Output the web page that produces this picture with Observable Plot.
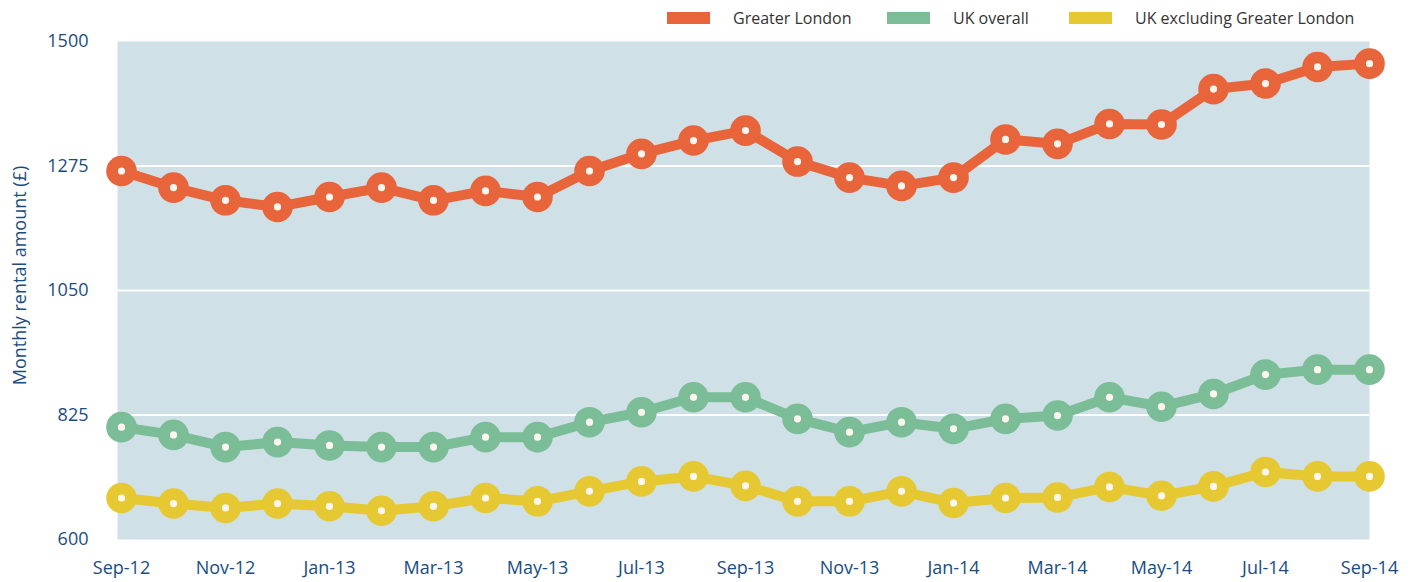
<!DOCTYPE html>
<html>
<head>
<meta charset="utf-8">
<script src="https://cdn.jsdelivr.net/npm/d3@7"></script>
<script src="https://cdn.jsdelivr.net/npm/@observablehq/plot@0.6"></script>
<style>
  html, body { margin: 0; padding: 0; background: #fff; }
  body { width: 1416px; height: 582px; overflow: hidden; font-family: "Open Sans", "Noto Sans", sans-serif; }
  #legend { position: relative; height: 28px; width: 1416px; }
  #legend .sw { position: absolute; top: 12px; width: 43px; height: 12px; }
  #legend .lb { position: absolute; top: 7px; font-size: 16px; line-height: 22px; color: #333; white-space: nowrap; }
</style>
</head>
<body>
<div id="legend"></div>
<div id="chart"></div>
<script>
const months = ["Sep-12","Oct-12","Nov-12","Dec-12","Jan-13","Feb-13","Mar-13","Apr-13","May-13","Jun-13","Jul-13","Aug-13","Sep-13","Oct-13","Nov-13","Dec-13","Jan-14","Feb-14","Mar-14","Apr-14","May-14","Jun-14","Jul-14","Aug-14","Sep-14"];
const tickLabels = ["Sep-12","Nov-12","Jan-13","Mar-13","May-13","Jul-13","Sep-13","Nov-13","Jan-14","Mar-14","May-14","Jul-14","Sep-14"];
const yTicks = [600, 825, 1050, 1275, 1500];
const seriesNames = ["Greater London", "UK overall", "UK excluding Greater London"];
const seriesColors = ["#E8643A", "#7BBD97", "#E6C832"];
const london = [1266,1236,1213,1201,1219,1236,1213,1230,1219,1266,1297,1321,1339,1283,1254,1239,1254,1323,1315,1351,1350,1414,1424,1454,1460];
const ukOverall = [803,789,767,776,770,767,767,785,785,812,830,857,857,818,794,812,800,818,824,857,840,863,898,907,907];
const ukExLondon = [675,665,657,665,660,652,660,675,669,687,705,714,697,669,669,687,666,675,676,695,679,696,722,714,714];

const seriesValues = [london, ukOverall, ukExLondon];
const data = [];
seriesNames.forEach((s, i) => {
  seriesValues[i].forEach((v, j) => data.push({series: s, month: months[j], value: v}));
});

// legend
const legend = document.getElementById("legend");
const legendPos = [[667, 733], [887, 953], [1069, 1135]];
seriesNames.forEach((s, i) => {
  const sw = document.createElement("div");
  sw.className = "sw";
  sw.style.left = legendPos[i][0] + "px";
  sw.style.background = seriesColors[i];
  legend.appendChild(sw);
  const lb = document.createElement("div");
  lb.className = "lb";
  lb.style.left = legendPos[i][1] + "px";
  lb.textContent = s;
  legend.appendChild(lb);
});

const chart = Plot.plot({
  width: 1416,
  height: 554,
  marginLeft: 117,
  marginRight: 47,
  marginTop: 13,
  marginBottom: 43,
  style: {fontFamily: "'Open Sans', 'Noto Sans', sans-serif", fontSize: "18px", color: "#1A4C7F", background: "white", overflow: "visible"},
  x: {type: "point", domain: months, range: [120, 1369], padding: 0, ticks: tickLabels, tickSize: 0, tickPadding: 22, label: null},
  y: {domain: [600, 1500], ticks: yTicks, tickFormat: d => String(d), tickSize: 0, tickPadding: 29, label: null},
  color: {domain: seriesNames, range: seriesColors},
  marks: [
    Plot.frame({fill: "#CFE0E7", stroke: null}),
    Plot.ruleY(yTicks.slice(1, -1), {stroke: "white", strokeWidth: 2}),
    Plot.line(data, {x: "month", y: "value", z: "series", stroke: "series", strokeWidth: 10}),
    Plot.dot(data, {x: "month", y: "value", fill: "series", r: 15.3, stroke: null}),
    Plot.dot(data, {x: "month", y: "value", fill: "#FFF6F0", r: 3.6, stroke: null}),
    Plot.text(["Monthly rental amount (£)"], {frameAnchor: "left", textAnchor: "middle", text: d => d, rotate: -90, dx: -97, dy: -15, fontSize: 18, fill: "#1A4C7F"})
  ]
});
document.getElementById("chart").appendChild(chart);
</script>
</body>
</html>
